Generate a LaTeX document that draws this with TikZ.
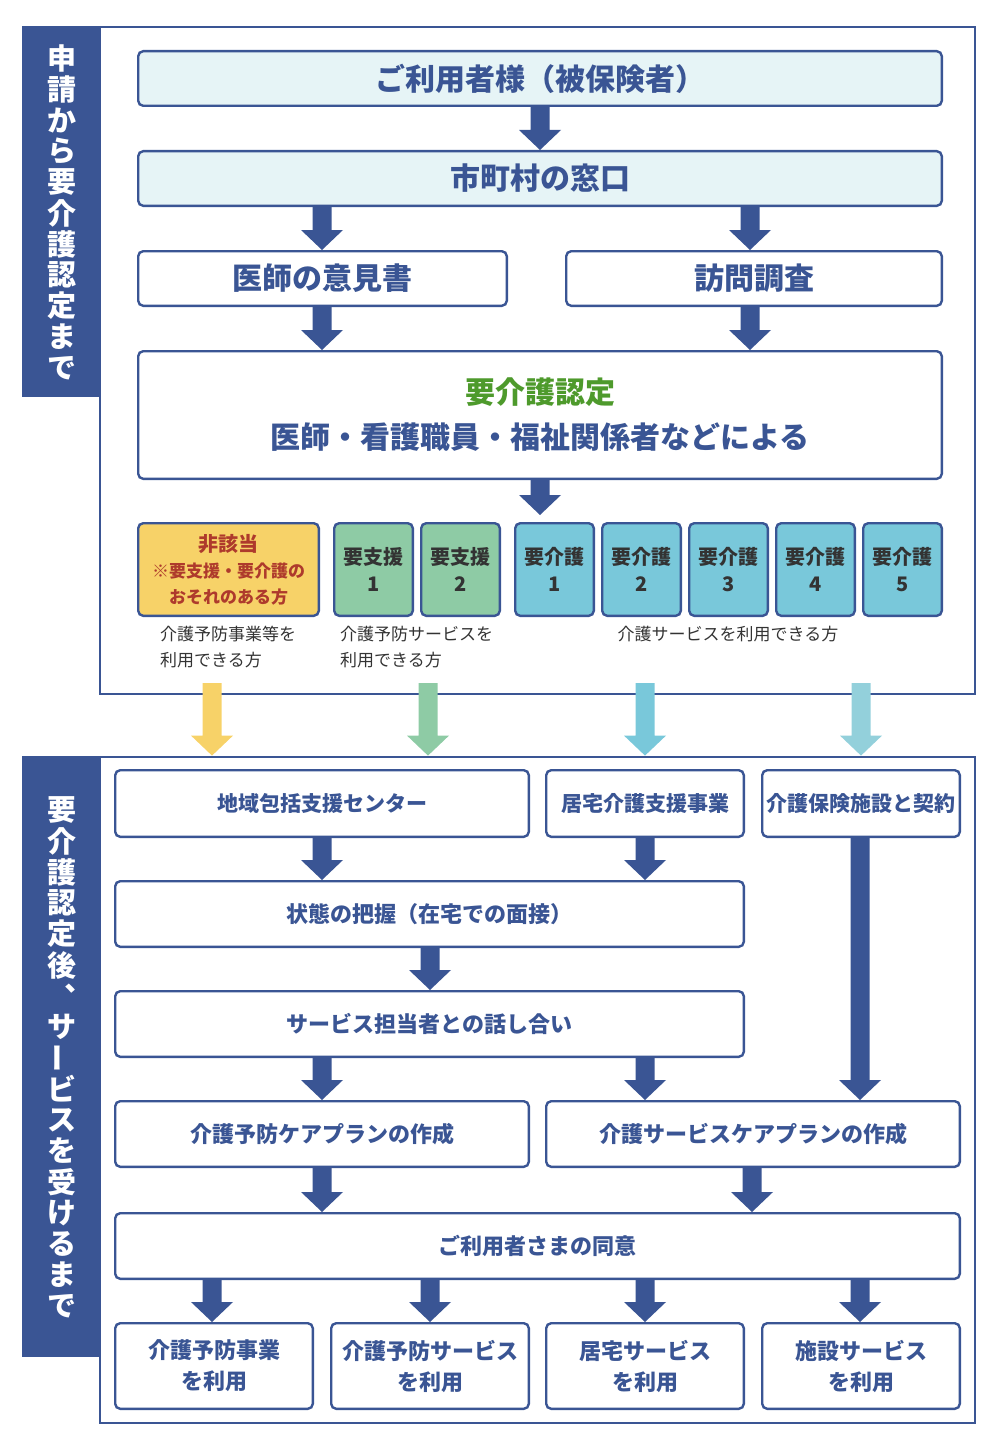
\documentclass[tikz,border=0pt]{standalone}
\usepackage{fontspec}
\setmainfont{Noto Sans CJK JP}
\usetikzlibrary{calc}
\definecolor{navy}{HTML}{3A5594}
\definecolor{paleblue}{HTML}{E6F4F6}
\definecolor{lvyellow}{HTML}{F7D268}
\definecolor{lvgreen}{HTML}{8ECBA5}
\definecolor{lvcyan}{HTML}{79C8DA}
\definecolor{lvlight}{HTML}{93D0DB}
\definecolor{darkred}{HTML}{AE3A2C}
\definecolor{okgreen}{HTML}{4E9A2C}
\definecolor{txtgray}{HTML}{333333}
% box: name, x1, y1, x2, y2, style, text
\newcommand\bx[7]{\node[#6, minimum width={(#4-#2)*1pt-2.4pt}, minimum height={(#5-#3)*1pt-2.4pt}] (#1) at ({(#2+#4)/2},{(#3+#5)/2}) {#7};}
% block arrow: [colour], x, from, to
\newcommand\bigarr[4][navy]{%
  \fill[#1] let \p1=(#3), \p2=(#4) in
    ({#2pt-9.5pt},\y1) -- ({#2pt+9.5pt},\y1) -- ({#2pt+9.5pt},\y2+20pt) -- ({#2pt+21pt},\y2+20pt)
    -- (#2pt,\y2) -- ({#2pt-21pt},\y2+20pt) -- ({#2pt-9.5pt},\y2+20pt) -- cycle;}
\begin{document}
\begin{tikzpicture}[x=1pt,y=-1pt,
  box/.style={draw=navy,line width=2.4pt,rounded corners=5pt,fill=white,text=navy,inner sep=0pt,align=center,font=\bfseries\fontsize{22}{31}\selectfont},
  smallbox/.style={box,font=\bfseries\fontsize{21}{31}\selectfont},
  bigbox/.style={box,font=\bfseries\fontsize{30}{45}\selectfont},
  headbox/.style={bigbox,fill=paleblue},
  lvl/.style={box,text=txtgray,font=\bfseries\fontsize{20}{27}\selectfont},
  note/.style={text=txtgray,font=\fontsize{17}{26}\selectfont,inner sep=0pt,align=left},
  side/.style={text=white,font=\bfseries\fontsize{29}{29}\selectfont,inner sep=0pt},
  frame/.style={draw=navy,line width=2.8pt,inner sep=0pt}
]
\useasboundingbox (0,0) rectangle (1000,1450);

% ---------- frames and side bars ----------
\node[frame, minimum width=875pt, minimum height=667pt] (topframe) at (537.5,360.5) {};
\fill[navy] (21.6,25.6) rectangle (100,397);
\node[frame, minimum width=875pt, minimum height=666pt] (botframe) at (537.5,1090) {};
\fill[navy] (21.6,755.6) rectangle (100,1357);

% side texts
\foreach \c [count=\i from 0] in {申,請,か,ら,要,介,護,認,定,ま,で}
  \node[side] (st\i) at (62,{58+31*\i}) {\c};
\foreach \c/\i in {要/0,介/1,護/2,認/3,定/4,後/5,︑/6,サ/7,ビ/9,ス/10,を/11,受/12,け/13,る/14,ま/15,で/16}
  \node[side] (sb\i) at (62,{810+31*\i}) {\c};
\node[side, rotate=90] (sb8) at (62,{810+31*8}) {ー};

% ---------- top part ----------
\bx{user}{137}{50}{943}{107}{headbox}{ご利用者様（被保険者）}
\bx{city}{137}{150}{943}{207}{headbox}{市町村の窓口}
\bx{doc}{137}{250}{508}{307}{bigbox}{医師の意見書}
\bx{visit}{565}{250}{943}{307}{bigbox}{訪問調査}
\bx{cert}{137}{350}{943}{480}{bigbox}{\textcolor{okgreen}{要介護認定}\\医師・看護職員・福祉関係者などによる}
\coordinate (lvtop) at (540,515);

\bx{l0}{137}{522}{320}{617}{lvl,fill=lvyellow,text=darkred,font=\bfseries\fontsize{17}{26}\selectfont}{{\fontsize{20}{26}\selectfont 非該当}\\※要支援・要介護の\\おそれのある方}
\bx{s1}{333}{522}{414}{617}{lvl,fill=lvgreen}{要支援\\1}
\bx{s2}{420}{522}{501}{617}{lvl,fill=lvgreen}{要支援\\2}
\bx{k1}{514}{522}{595}{617}{lvl,fill=lvcyan}{要介護\\1}
\bx{k2}{601}{522}{682}{617}{lvl,fill=lvcyan}{要介護\\2}
\bx{k3}{688}{522}{769}{617}{lvl,fill=lvcyan}{要介護\\3}
\bx{k4}{775}{522}{856}{617}{lvl,fill=lvcyan}{要介護\\4}
\bx{k5}{862}{522}{943}{617}{lvl,fill=lvcyan}{要介護\\5}

\node[note, anchor=west] (n1) at (160,647) {介護予防事業等を\\利用できる方};
\node[note, anchor=west] (n2) at (340,647) {介護予防サービスを\\利用できる方};
\node[note] (n3) at (728,634) {介護サービスを利用できる方};

\bigarr{540}{user.south}{city.north}
\bigarr{322}{city.south}{doc.north}
\bigarr{750}{city.south}{visit.north}
\bigarr{322}{doc.south}{cert.north}
\bigarr{750}{visit.south}{cert.north}
\bigarr{540}{cert.south}{lvtop}

% ---------- bottom part ----------
\bx{b1}{114}{769}{530}{838}{smallbox}{地域包括支援センター}
\bx{b2}{545}{769}{745}{838}{smallbox}{居宅介護支援事業}
\bx{b3}{761}{769}{961}{838}{smallbox}{介護保険施設と契約}
\bx{b4}{114}{880}{745}{948}{box}{状態の把握（在宅での面接）}
\bx{b5}{114}{990}{745}{1058}{box}{サービス担当者との話し合い}
\bx{b6}{114}{1100}{530}{1168}{box}{介護予防ケアプランの作成}
\bx{b7}{545}{1100}{961}{1168}{box}{介護サービスケアプランの作成}
\bx{b8}{114}{1212}{961}{1280}{box}{ご利用者さまの同意}
\bx{r1}{114}{1322}{314}{1410}{box}{介護予防事業\\を利用}
\bx{r2}{330}{1322}{530}{1410}{box}{介護予防サービス\\を利用}
\bx{r3}{545}{1322}{745}{1410}{box}{居宅サービス\\を利用}
\bx{r4}{761}{1322}{961}{1410}{box}{施設サービス\\を利用}

\bigarr{322}{b1.south}{b4.north}
\bigarr{645}{b2.south}{b4.north}
\bigarr{430}{b4.south}{b5.north}
\bigarr{322}{b5.south}{b6.north}
\bigarr{645}{b5.south}{b7.north}
\bigarr{860}{b3.south}{b7.north}
\bigarr{322}{b6.south}{b8.north}
\bigarr{752}{b7.south}{b8.north}
\bigarr{212}{b8.south}{r1.north}
\bigarr{430}{b8.south}{r2.north}
\bigarr{645}{b8.south}{r3.north}
\bigarr{860}{b8.south}{r4.north}

% ---------- coloured arrows between parts ----------
\coordinate (c1) at (212,683);
\coordinate (c2) at (428,683);
\coordinate (c3) at (645,683);
\coordinate (c4) at (861,683);
\bigarr[lvyellow]{212}{c1}{botframe.north -| c1}
\bigarr[lvgreen]{428}{c2}{botframe.north -| c2}
\bigarr[lvcyan]{645}{c3}{botframe.north -| c3}
\bigarr[lvlight]{861}{c4}{botframe.north -| c4}
\end{tikzpicture}
\end{document}
